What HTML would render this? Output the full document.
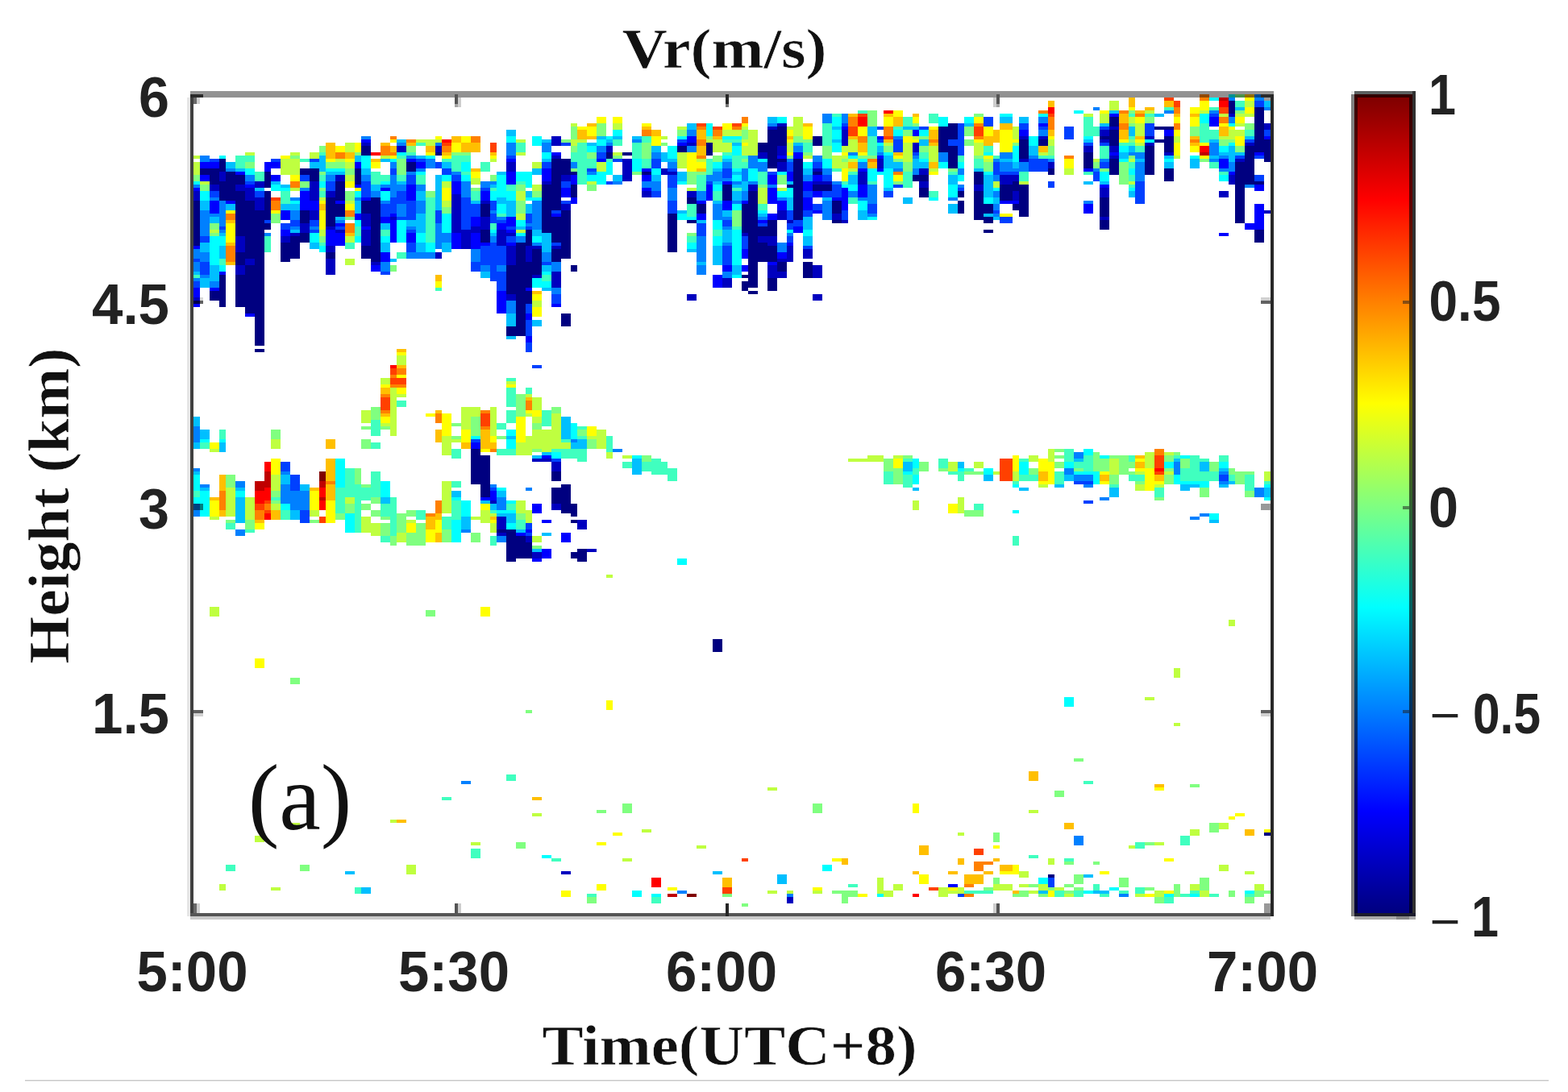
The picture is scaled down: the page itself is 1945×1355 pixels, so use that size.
<!DOCTYPE html>
<html lang="en"><head><meta charset="utf-8"><title>Vr(m/s)</title>
<style>
html,body{margin:0;padding:0;background:#fff;}
body{width:1945px;height:1355px;overflow:hidden;position:relative;}
svg{position:absolute;left:0;top:0;display:block;}
.t{font-family:"Liberation Sans",Arial,sans-serif;font-weight:bold;fill:#222;}
.s{font-family:"Liberation Serif","Times New Roman",serif;font-weight:bold;fill:#111;stroke:#fff;stroke-width:0.6px;}
.r{font-family:"Liberation Serif","Times New Roman",serif;fill:#111;}
</style></head>
<body>
<svg width="1945" height="1355" viewBox="0 0 1945 1355">
<rect x="0" y="0" width="1945" height="1355" fill="#fff"/>
<g transform="translate(0.3,1.2) scale(4,4)" shape-rendering="crispEdges">
<path fill="#000080" d="M381 31h2v4h-2zM389 33h3v14h-3zM344 36h3v3h-3zM294 38h3v5h-3zM358 39h6v1h-6zM241 39h3v6h-3zM291 39h3v8h-3zM344 40h3v5h-3zM238 40h3v12h-3zM341 42h3v1h-3zM252 42h3v3h-3zM361 42h3v5h-3zM358 43h3v1h-3zM322 43h3v2h-3zM316 43h3v6h-3zM392 43h2v7h-2zM235 44h3v3h-3zM219 44h2v4h-2zM210 45h3v2h-3zM112 45h3v3h-3zM294 45h3v7h-3zM355 45h3v9h-3zM386 45h3v12h-3zM135 47h2v1h-2zM193 47h3v1h-3zM188 47h2v2h-2zM336 47h3v5h-3zM241 49h3v1h-3zM68 49h2v4h-2zM174 49h3v5h-3zM344 49h3v5h-3zM171 49h3v16h-3zM246 49h3v19h-3zM126 50h3v3h-3zM383 50h3v19h-3zM62 52h3v2h-3zM93 52h3v2h-3zM325 52h2v2h-2zM96 52h3v4h-3zM361 52h3v4h-3zM65 52h3v5h-3zM110 52h2v5h-2zM177 53h2v1h-2zM199 53h3v1h-3zM252 53h3v1h-3zM302 53h3v4h-3zM82 53h2v5h-2zM70 53h3v9h-3zM283 54h5v2h-5zM73 54h3v3h-3zM389 56h3v1h-3zM314 56h2v3h-2zM68 56h2v6h-2zM104 56h3v6h-3zM244 57h2v1h-2zM252 57h6v2h-6zM177 57h2v4h-2zM224 57h3v5h-3zM310 57h4v5h-4zM316 57h3v10h-3zM168 57h3v15h-3zM285 58h3v3h-3zM297 59h2v2h-2zM82 59h2v9h-2zM302 59h3v9h-3zM73 59h3v14h-3zM232 59h3v30h-3zM213 61h3v2h-3zM341 61h3v6h-3zM101 61h3v9h-3zM115 61h3v20h-3zM112 62h3v4h-3zM258 62h3v4h-3zM297 62h2v4h-2zM60 62h2v14h-2zM76 62h3v18h-3zM314 63h2v2h-2zM216 63h3v3h-3zM305 63h3v3h-3zM104 63h3v4h-3zM149 63h3v4h-3zM230 63h2v9h-2zM93 65h3v4h-3zM174 65h3v15h-3zM79 65h3v42h-3zM207 66h3v12h-3zM305 67h3v2h-3zM171 67h3v8h-3zM213 68h3v1h-3zM258 68h3v1h-3zM341 68h3v3h-3zM238 68h3v5h-3zM82 69h2v2h-2zM235 70h3v3h-3zM305 71h3v1h-3zM149 71h3v4h-3zM389 71h3v4h-3zM163 71h2v5h-2zM93 72h3v3h-3zM90 73h3v7h-3zM87 75h3v6h-3zM235 75h3v6h-3zM160 75h3v29h-3zM112 76h3v4h-3zM238 76h3v5h-3zM171 77h3v4h-3zM165 77h3v8h-3zM101 78h3v2h-3zM73 78h3v4h-3zM241 81h3v3h-3zM249 81h3v5h-3zM163 81h2v8h-2zM177 82h2v2h-2zM157 82h3v9h-3zM76 82h3v15h-3zM230 85h2v1h-2zM68 85h2v10h-2zM73 85h3v10h-3zM238 86h3v4h-3zM230 87h2v3h-2zM232 90h3v1h-3zM65 90h3v3h-3zM163 90h2v4h-2zM174 97h3v4h-3zM157 101h3v3h-3zM79 108h3v1h-3zM146 139h3v11h-3zM149 141h3v13h-3zM171 146h3v3h-3zM174 150h3v9h-3zM171 151h3v5h-3zM177 156h2v4h-2zM177 161h2v1h-2zM154 164h3v1h-3zM157 164h3v10h-3zM160 166h3v7h-3zM163 168h2v5h-2zM179 170h3v4h-3zM177 171h2v2h-2zM221 198h3v4h-3zM392 258h2v1h-2zM325 271h2v1h-2z"/>
<path fill="#0000bf" d="M381 35h2v1h-2zM241 38h3v1h-3zM392 38h2v2h-2zM238 39h3v1h-3zM344 39h3v1h-3zM341 40h3v2h-3zM261 40h2v5h-2zM316 42h3v1h-3zM322 42h3v1h-3zM355 42h3v1h-3zM171 42h3v3h-3zM341 43h3v1h-3zM112 44h3v1h-3zM213 44h3v1h-3zM355 44h3v1h-3zM386 44h3v1h-3zM283 44h2v3h-2zM123 45h3v2h-3zM135 45h2v2h-2zM188 45h2v2h-2zM336 45h3v2h-3zM344 45h3v2h-3zM241 45h3v3h-3zM361 47h3v1h-3zM235 47h3v2h-3zM171 48h3v1h-3zM344 48h3v1h-3zM316 49h3v1h-3zM383 49h3v1h-3zM272 49h2v3h-2zM193 49h3v7h-3zM325 50h2v2h-2zM157 50h3v3h-3zM241 50h3v3h-3zM252 52h3v1h-3zM205 52h2v2h-2zM285 52h3v2h-3zM207 53h3v1h-3zM68 53h2v3h-2zM266 53h3v4h-3zM104 54h3v2h-3zM174 54h3v2h-3zM314 54h2v2h-2zM310 54h4v3h-4zM381 54h2v3h-2zM168 56h3v1h-3zM252 56h6v1h-6zM79 56h3v2h-3zM285 56h3v2h-3zM96 56h3v6h-3zM65 57h3v2h-3zM73 57h3v2h-3zM232 57h3v2h-3zM302 57h3v2h-3zM341 58h3v3h-3zM76 58h3v4h-3zM101 59h3v2h-3zM199 59h3v2h-3zM213 59h3v2h-3zM378 59h3v2h-3zM60 59h2v3h-2zM314 59h2v3h-2zM140 60h3v12h-3zM79 61h3v4h-3zM149 62h3v1h-3zM174 63h3v2h-3zM392 65h2v1h-2zM96 65h3v3h-3zM241 65h3v3h-3zM258 66h3v2h-3zM112 66h3v4h-3zM121 67h2v1h-2zM341 67h3v1h-3zM149 67h3v4h-3zM244 68h2v1h-2zM261 68h2v1h-2zM93 69h3v3h-3zM101 70h3v1h-3zM146 70h3v2h-3zM104 71h3v1h-3zM112 71h3v5h-3zM154 71h3v5h-3zM143 71h3v6h-3zM90 72h3v1h-3zM157 72h3v1h-3zM230 72h2v1h-2zM87 73h3v2h-3zM235 73h3v2h-3zM238 73h3v3h-3zM73 73h3v5h-3zM165 76h3v1h-3zM171 76h3v1h-3zM101 76h3v2h-3zM163 76h2v5h-2zM244 76h2v5h-2zM157 76h3v6h-3zM249 77h3v3h-3zM135 78h2v2h-2zM241 80h3v1h-3zM76 80h3v2h-3zM101 80h3v5h-3zM115 81h3v1h-3zM73 82h3v3h-3zM238 82h3v4h-3zM252 82h3v4h-3zM241 84h3v2h-3zM171 84h3v5h-3zM165 85h3v1h-3zM224 86h3v3h-3zM157 91h3v2h-3zM213 91h3v2h-3zM252 91h3v2h-3zM60 92h2v2h-2zM165 142h6v1h-6zM171 143h3v3h-3zM152 155h2v1h-2zM171 156h3v2h-3zM154 160h3v4h-3zM179 161h3v3h-3zM154 165h3v1h-3zM163 166h2v2h-2zM182 170h3v1h-3zM165 171h3v2h-3zM174 270h3v1h-3zM244 278h2v2h-2z"/>
<path fill="#0000ff" d="M344 35h3v1h-3zM375 36h3v3h-3zM322 38h3v1h-3zM261 39h2v1h-2zM283 40h2v2h-2zM316 40h3v2h-3zM361 40h3v2h-3zM272 42h2v1h-2zM392 42h2v1h-2zM213 42h3v2h-3zM112 43h3v1h-3zM210 44h3v1h-3zM171 47h3v1h-3zM344 47h3v1h-3zM389 47h3v1h-3zM246 47h3v2h-3zM241 48h3v1h-3zM272 48h2v1h-2zM126 49h3v1h-3zM157 49h3v1h-3zM185 49h3v1h-3zM378 49h3v3h-3zM62 50h6v2h-6zM84 50h3v2h-3zM110 50h2v2h-2zM129 50h3v2h-3zM82 50h2v3h-2zM199 52h3v1h-3zM266 52h3v1h-3zM272 52h2v1h-2zM336 52h3v1h-3zM168 52h3v4h-3zM73 53h3v1h-3zM381 53h2v1h-2zM244 53h2v3h-2zM157 53h3v4h-3zM62 54h3v2h-3zM84 54h3v2h-3zM199 54h3v2h-3zM252 54h3v2h-3zM177 54h2v3h-2zM238 54h3v3h-3zM224 56h3v1h-3zM249 56h3v3h-3zM140 56h3v4h-3zM76 57h3v1h-3zM110 57h2v1h-2zM341 57h3v1h-3zM389 57h3v2h-3zM266 57h3v4h-3zM126 57h3v5h-3zM219 57h2v5h-2zM60 58h2v1h-2zM118 58h3v1h-3zM199 58h3v1h-3zM174 58h3v3h-3zM238 58h3v5h-3zM261 58h2v7h-2zM252 59h3v2h-3zM149 59h3v3h-3zM93 59h3v6h-3zM112 61h3v1h-3zM258 61h3v1h-3zM177 61h2v2h-2zM249 61h3v4h-3zM70 62h3v1h-3zM104 62h3v1h-3zM216 62h3v1h-3zM230 62h2v1h-2zM310 62h6v1h-6zM96 62h3v3h-3zM224 62h3v3h-3zM241 62h3v3h-3zM65 62h3v4h-3zM336 63h3v3h-3zM389 63h3v8h-3zM252 65h3v1h-3zM87 65h3v3h-3zM121 66h2v1h-2zM171 66h3v1h-3zM110 66h2v2h-2zM216 66h3v2h-3zM238 66h3v2h-3zM118 67h3v2h-3zM146 67h3v3h-3zM157 67h3v3h-3zM235 68h3v1h-3zM121 68h2v7h-2zM104 69h3v1h-3zM154 69h3v2h-3zM386 69h3v2h-3zM112 70h3v1h-3zM246 70h3v2h-3zM157 71h3v1h-3zM87 71h3v2h-3zM101 71h3v5h-3zM378 72h3v1h-3zM126 72h3v3h-3zM104 72h3v4h-3zM140 72h3v5h-3zM146 72h3v5h-3zM149 75h3v1h-3zM157 75h3v1h-3zM244 75h2v1h-2zM60 76h2v1h-2zM230 77h2v3h-2zM241 78h3v2h-3zM118 78h3v3h-3zM238 81h3v1h-3zM115 82h3v2h-3zM224 82h3v2h-3zM230 82h2v2h-2zM68 84h2v1h-2zM221 85h3v4h-3zM65 89h3v1h-3zM163 89h2v1h-2zM60 89h2v3h-2zM154 90h3v7h-3zM60 94h2v1h-2zM171 94h3v1h-3zM76 97h3v1h-3zM163 97h2v2h-2zM163 104h2v2h-2zM146 137h3v2h-3zM168 141h3v1h-3zM152 152h2v3h-2zM149 154h3v1h-3zM165 156h3v3h-3zM168 161h3v1h-3zM163 164h2v1h-2zM160 165h3v1h-3zM174 165h3v3h-3zM168 170h3v3h-3zM165 173h3v1h-3zM294 274h3v1h-3z"/>
<path fill="#0040ff" d="M389 31h3v2h-3zM375 35h3v1h-3zM305 36h3v3h-3zM261 38h2v1h-2zM316 38h3v2h-3zM355 38h3v4h-3zM297 38h2v10h-2zM272 39h2v1h-2zM285 39h3v1h-3zM322 39h3v1h-3zM341 39h3v1h-3zM330 39h3v4h-3zM392 40h2v2h-2zM210 43h3v1h-3zM272 43h2v1h-2zM386 43h3v1h-3zM294 43h3v2h-3zM277 43h3v4h-3zM174 44h3v1h-3zM336 44h3v1h-3zM341 44h3v1h-3zM283 47h2v1h-2zM185 47h3v2h-3zM157 48h3v1h-3zM383 48h3v1h-3zM389 48h3v1h-3zM65 49h3v1h-3zM84 49h3v1h-3zM96 49h3v1h-3zM129 49h3v1h-3zM190 49h3v1h-3zM202 49h3v3h-3zM319 49h6v4h-6zM135 50h2v2h-2zM168 50h3v2h-3zM252 50h3v2h-3zM341 50h3v2h-3zM244 50h2v3h-2zM308 50h2v4h-2zM182 52h3v1h-3zM207 52h3v1h-3zM121 52h2v2h-2zM137 52h3v2h-3zM224 52h3v3h-3zM238 53h3v1h-3zM310 53h6v1h-6zM339 53h2v3h-2zM93 54h3v2h-3zM140 54h3v2h-3zM255 54h3v2h-3zM389 54h3v2h-3zM126 54h3v3h-3zM207 54h3v4h-3zM76 56h3v1h-3zM188 56h2v1h-2zM219 56h2v1h-2zM174 56h3v2h-3zM325 56h2v2h-2zM101 56h3v3h-3zM112 56h3v5h-3zM352 56h3v7h-3zM277 57h3v1h-3zM258 57h3v4h-3zM149 58h3v1h-3zM297 58h2v1h-2zM65 59h3v2h-3zM79 59h3v2h-3zM202 59h3v2h-3zM249 59h3v2h-3zM255 59h3v2h-3zM274 59h3v2h-3zM123 59h3v4h-3zM121 61h2v5h-2zM143 61h3v10h-3zM174 62h3v1h-3zM152 62h2v3h-2zM207 62h3v4h-3zM126 62h3v6h-3zM252 63h3v2h-3zM269 63h3v3h-3zM118 63h3v4h-3zM146 63h3v4h-3zM171 65h3v1h-3zM308 65h2v1h-2zM249 65h3v2h-3zM244 65h2v3h-2zM261 65h2v3h-2zM135 65h2v4h-2zM152 66h2v3h-2zM163 66h2v3h-2zM123 67h3v1h-3zM310 67h4v2h-4zM82 68h2v1h-2zM154 68h3v1h-3zM90 68h3v2h-3zM96 68h3v2h-3zM224 68h3v2h-3zM246 68h3v2h-3zM235 69h3v1h-3zM87 69h3v2h-3zM244 69h2v2h-2zM216 69h3v4h-3zM68 70h2v1h-2zM104 70h3v1h-3zM157 70h3v1h-3zM163 70h2v1h-2zM96 71h3v1h-3zM126 71h3v1h-3zM62 73h3v2h-3zM157 73h3v2h-3zM244 73h2v2h-2zM230 73h2v4h-2zM171 75h3v1h-3zM126 75h3v3h-3zM152 75h2v12h-2zM249 76h3v1h-3zM149 76h3v6h-3zM154 76h3v6h-3zM224 76h3v6h-3zM60 80h2v1h-2zM168 81h3v1h-3zM146 81h3v3h-3zM62 81h3v4h-3zM118 84h3v1h-3zM154 84h3v6h-3zM60 87h2v2h-2zM171 91h3v3h-3zM163 94h2v3h-2zM163 99h2v5h-2zM163 106h2v3h-2zM165 113h3v1h-3zM146 136h3v1h-3zM171 142h3v1h-3zM87 143h3v3h-3zM378 147h3v2h-3zM90 147h3v5h-3zM333 149h6v1h-6zM152 151h2v1h-2zM336 155h3v1h-3zM93 158h3v4h-3zM163 162h2v2h-2zM163 165h2v1h-2zM325 272h2v3h-2zM297 277h2v1h-2z"/>
<path fill="#0080ff" d="M389 29h3v2h-3zM381 30h2v1h-2zM339 33h2v1h-2zM392 33h2v1h-2zM361 34h3v1h-3zM375 34h3v1h-3zM255 35h3v3h-3zM261 35h2v3h-2zM322 36h3v2h-3zM381 36h2v2h-2zM238 38h3v1h-3zM213 40h3v2h-3zM322 40h3v2h-3zM112 42h3v1h-3zM277 42h3v1h-3zM196 43h3v1h-3zM123 44h3v1h-3zM135 44h2v1h-2zM188 44h2v1h-2zM168 44h3v3h-3zM157 44h3v4h-3zM375 44h3v4h-3zM185 45h3v2h-3zM213 45h3v2h-3zM246 45h3v2h-3zM263 47h3v1h-3zM272 47h2v1h-2zM350 47h2v1h-2zM202 47h3v2h-3zM310 47h4v2h-4zM352 47h3v2h-3zM291 47h3v3h-3zM126 48h3v1h-3zM283 48h2v1h-2zM319 48h3v1h-3zM378 48h3v1h-3zM62 48h3v2h-3zM252 48h3v2h-3zM232 48h3v4h-3zM244 49h2v1h-2zM308 49h2v1h-2zM325 49h2v1h-2zM341 49h3v1h-3zM375 49h3v1h-3zM132 49h3v3h-3zM121 50h2v2h-2zM177 50h2v2h-2zM207 50h3v2h-3zM224 50h3v2h-3zM266 50h3v2h-3zM235 50h3v3h-3zM310 50h4v3h-4zM316 50h3v3h-3zM381 50h2v3h-2zM352 50h3v6h-3zM70 52h3v1h-3zM129 52h3v1h-3zM277 52h3v1h-3zM314 52h2v1h-2zM339 52h2v1h-2zM378 52h3v1h-3zM255 52h3v2h-3zM283 52h2v2h-2zM297 52h2v2h-2zM230 52h2v4h-2zM126 53h3v1h-3zM140 53h3v1h-3zM182 53h3v1h-3zM221 53h3v3h-3zM76 54h3v2h-3zM101 54h3v2h-3zM112 54h3v2h-3zM219 54h2v2h-2zM249 54h3v2h-3zM308 54h2v2h-2zM121 54h2v7h-2zM224 55h3v1h-3zM152 56h2v1h-2zM190 56h3v1h-3zM227 56h3v1h-3zM232 56h3v1h-3zM258 56h3v1h-3zM149 56h3v2h-3zM199 56h3v2h-3zM202 56h3v3h-3zM143 56h3v5h-3zM60 57h2v1h-2zM118 57h3v1h-3zM238 57h3v1h-3zM297 57h2v1h-2zM386 57h3v1h-3zM123 57h3v2h-3zM129 57h3v2h-3zM269 57h3v6h-3zM93 58h3v1h-3zM207 58h3v4h-3zM115 59h3v2h-3zM263 59h3v2h-3zM308 59h2v2h-2zM216 59h3v3h-3zM230 59h2v3h-2zM65 61h3v1h-3zM90 61h3v1h-3zM110 61h2v1h-2zM241 61h3v1h-3zM266 61h3v1h-3zM294 61h3v1h-3zM118 62h3v1h-3zM227 62h3v1h-3zM336 62h3v1h-3zM129 62h3v4h-3zM255 62h3v6h-3zM68 62h2v8h-2zM165 62h3v9h-3zM308 63h2v2h-2zM123 63h3v4h-3zM221 63h3v5h-3zM152 65h2v1h-2zM90 65h3v3h-3zM62 65h3v8h-3zM65 66h3v1h-3zM269 66h3v1h-3zM308 66h2v1h-2zM154 67h3v1h-3zM224 67h3v1h-3zM235 67h3v1h-3zM104 68h3v1h-3zM163 69h2v1h-2zM135 69h2v8h-2zM90 70h3v1h-3zM96 70h3v1h-3zM126 70h3v1h-3zM224 70h3v1h-3zM68 71h2v1h-2zM82 72h2v1h-2zM244 72h2v1h-2zM137 72h3v3h-3zM152 73h2v2h-2zM160 73h3v2h-3zM216 73h3v8h-3zM165 75h3v1h-3zM224 75h3v1h-3zM241 75h3v3h-3zM60 77h2v3h-2zM146 77h3v4h-3zM126 78h9v2h-9zM62 78h3v3h-3zM168 78h3v3h-3zM60 81h2v3h-2zM118 81h3v3h-3zM171 81h3v3h-3zM149 82h3v2h-3zM154 82h3v2h-3zM216 82h3v3h-3zM224 84h3v2h-3zM62 85h3v1h-3zM60 86h2v1h-2zM65 87h3v2h-3zM171 89h3v2h-3zM157 93h3v4h-3zM60 132h2v5h-2zM177 136h2v1h-2zM190 139h3v1h-3zM333 140h3v2h-3zM364 143h2v4h-2zM60 145h2v1h-2zM330 145h3v2h-3zM87 146h3v1h-3zM378 146h3v1h-3zM333 147h6v2h-6zM378 149h3v1h-3zM73 149h3v2h-3zM62 150h3v1h-3zM152 150h2v1h-2zM336 150h3v1h-3zM87 150h3v6h-3zM163 151h2v1h-2zM389 151h3v3h-3zM90 152h6v6h-6zM341 154h3v1h-3zM154 154h3v4h-3zM60 156h2v4h-2zM372 159h3v1h-3zM369 160h3v1h-3zM143 164h3v1h-3zM73 164h3v2h-3zM154 166h3v2h-3zM143 242h3v1h-3zM333 259h3v3h-3zM210 276h3v1h-3zM244 277h2v1h-2zM347 277h3v1h-3z"/>
<path fill="#00bfff" d="M392 31h2v2h-2zM383 33h3v1h-3zM344 34h3v1h-3zM358 35h3v1h-3zM238 36h3v2h-3zM310 36h4v2h-4zM316 36h3v2h-3zM299 38h3v1h-3zM341 38h3v1h-3zM213 38h3v2h-3zM258 39h3v1h-3zM280 39h5v1h-5zM269 39h3v3h-3zM350 39h2v3h-2zM157 40h3v2h-3zM185 42h3v1h-3zM190 42h3v1h-3zM196 42h3v1h-3zM386 42h3v1h-3zM123 43h3v1h-3zM168 43h3v1h-3zM188 43h2v1h-2zM258 43h3v1h-3zM336 43h3v1h-3zM375 43h3v1h-3zM285 43h3v2h-3zM182 44h3v1h-3zM227 44h3v1h-3zM246 44h3v1h-3zM202 45h3v2h-3zM272 45h2v2h-2zM350 45h2v2h-2zM319 45h3v3h-3zM381 45h2v5h-2zM378 47h3v1h-3zM383 47h3v1h-3zM347 47h3v2h-3zM205 47h2v3h-2zM129 48h3v1h-3zM361 48h3v1h-3zM375 48h3v1h-3zM110 48h2v2h-2zM274 48h3v4h-3zM99 48h2v5h-2zM118 49h3v1h-3zM168 49h3v1h-3zM207 49h3v1h-3zM224 49h3v1h-3zM310 49h4v1h-4zM352 49h3v1h-3zM283 49h2v3h-2zM369 49h3v3h-3zM70 50h3v2h-3zM96 50h3v2h-3zM137 50h3v2h-3zM277 50h3v2h-3zM285 50h3v2h-3zM314 50h2v2h-2zM361 50h3v2h-3zM73 52h3v1h-3zM221 52h3v1h-3zM302 52h3v1h-3zM112 52h3v2h-3zM165 52h3v2h-3zM249 52h3v2h-3zM101 53h6v1h-6zM154 53h3v1h-3zM227 53h3v1h-3zM210 53h3v3h-3zM190 54h3v2h-3zM202 54h3v2h-3zM263 54h3v3h-3zM294 54h3v3h-3zM305 54h3v7h-3zM135 54h2v11h-2zM84 56h3v1h-3zM123 56h3v1h-3zM221 56h3v1h-3zM244 56h2v1h-2zM336 56h3v1h-3zM341 56h3v1h-3zM230 56h2v3h-2zM87 57h3v1h-3zM152 57h2v1h-2zM227 57h3v1h-3zM115 57h3v2h-3zM79 58h3v1h-3zM274 58h3v1h-3zM163 59h2v2h-2zM350 59h2v2h-2zM129 59h3v3h-3zM227 59h3v3h-3zM255 61h3v1h-3zM154 61h3v2h-3zM280 61h3v2h-3zM308 61h2v2h-2zM244 61h2v4h-2zM146 62h3v1h-3zM221 62h3v1h-3zM62 62h3v3h-3zM110 62h2v4h-2zM157 62h3v5h-3zM70 63h3v2h-3zM87 63h6v2h-6zM163 63h2v3h-2zM294 63h3v3h-3zM210 65h3v1h-3zM224 65h3v2h-3zM266 65h3v3h-3zM235 66h3v1h-3zM305 66h3v1h-3zM129 66h3v6h-3zM104 67h3v1h-3zM308 67h2v1h-2zM65 67h3v2h-3zM249 67h3v4h-3zM216 68h3v1h-3zM126 68h3v2h-3zM118 69h3v2h-3zM160 70h3v1h-3zM90 71h3v1h-3zM165 71h3v2h-3zM224 71h3v4h-3zM68 72h2v1h-2zM152 72h2v1h-2zM168 72h3v6h-3zM249 73h3v3h-3zM96 75h3v2h-3zM62 75h3v3h-3zM118 75h3v3h-3zM129 75h3v3h-3zM137 75h3v3h-3zM68 76h2v4h-2zM221 76h3v6h-3zM213 77h3v1h-3zM121 80h2v1h-2zM216 81h3v1h-3zM168 82h3v2h-3zM227 82h3v3h-3zM65 82h3v5h-3zM60 84h2v1h-2zM149 84h3v2h-3zM62 86h3v3h-3zM168 89h3v1h-3zM157 97h3v4h-3zM165 99h3v2h-3zM157 104h3v1h-3zM60 129h2v3h-2zM174 129h3v7h-3zM62 133h3v3h-3zM157 135h3v1h-3zM179 136h3v3h-3zM60 137h2v2h-2zM177 137h2v2h-2zM68 137h2v3h-2zM168 140h3v1h-3zM165 141h3v1h-3zM333 142h3v1h-3zM364 142h2v1h-2zM196 142h3v5h-3zM297 143h2v2h-2zM280 143h3v3h-3zM372 143h3v3h-3zM378 145h3v1h-3zM60 146h2v1h-2zM305 147h3v2h-3zM330 147h3v2h-3zM87 147h3v3h-3zM381 149h2v1h-2zM327 150h3v1h-3zM369 150h3v1h-3zM378 150h3v1h-3zM93 150h3v2h-3zM366 150h3v2h-3zM62 151h3v1h-3zM73 151h3v1h-3zM283 151h2v1h-2zM316 151h3v1h-3zM344 151h3v3h-3zM392 151h2v3h-2zM140 152h3v2h-3zM154 152h3v2h-3zM118 154h3v2h-3zM73 154h3v8h-3zM149 155h3v1h-3zM152 156h2v2h-2zM90 158h3v3h-3zM154 159h3v1h-3zM157 159h3v3h-3zM143 160h3v4h-3zM375 161h3v1h-3zM160 164h3v1h-3zM168 165h3v1h-3zM165 170h3v1h-3zM107 270h3v1h-3zM221 270h3v1h-3zM336 271h3v1h-3zM241 271h3v3h-3zM112 275h3v2h-3zM322 276h3v1h-3zM339 276h5v1h-5z"/>
<path fill="#00ffff" d="M381 29h2v1h-2zM375 30h3v1h-3zM333 34h3v1h-3zM310 35h4v1h-4zM322 35h3v1h-3zM372 35h3v3h-3zM241 36h3v2h-3zM299 36h3v2h-3zM258 36h3v3h-3zM291 36h3v3h-3zM381 38h2v1h-2zM219 38h2v4h-2zM190 40h3v2h-3zM277 40h3v2h-3zM285 40h3v2h-3zM258 40h3v3h-3zM188 42h2v1h-2zM210 42h3v1h-3zM224 42h6v1h-6zM336 42h3v1h-3zM157 42h3v2h-3zM165 42h3v3h-3zM319 42h3v3h-3zM355 43h3v1h-3zM185 43h3v2h-3zM272 44h2v1h-2zM381 44h2v1h-2zM258 44h3v3h-3zM182 45h3v2h-3zM347 45h3v2h-3zM378 45h3v2h-3zM227 45h3v3h-3zM207 45h3v4h-3zM314 45h2v5h-2zM123 47h3v1h-3zM274 47h3v1h-3zM305 47h3v1h-3zM168 47h3v2h-3zM68 48h2v1h-2zM132 48h3v1h-3zM224 48h3v1h-3zM263 48h3v1h-3zM369 48h3v1h-3zM112 48h3v4h-3zM121 49h2v1h-2zM235 49h3v1h-3zM266 49h3v1h-3zM285 49h3v1h-3zM347 49h3v1h-3zM361 49h3v1h-3zM255 49h3v3h-3zM196 49h3v4h-3zM221 50h3v2h-3zM249 50h3v2h-3zM291 50h3v2h-3zM297 50h2v2h-2zM143 50h3v3h-3zM188 50h2v4h-2zM101 52h6v1h-6zM227 52h3v1h-3zM76 52h3v2h-3zM202 52h3v2h-3zM350 52h2v2h-2zM232 52h3v4h-3zM269 52h3v4h-3zM274 52h3v6h-3zM129 53h3v1h-3zM241 53h3v1h-3zM272 53h2v1h-2zM305 53h3v1h-3zM160 53h3v3h-3zM341 53h3v3h-3zM185 53h3v4h-3zM163 53h2v5h-2zM137 54h3v2h-3zM143 54h3v2h-3zM182 54h3v2h-3zM227 54h3v2h-3zM297 54h2v2h-2zM378 54h3v2h-3zM154 54h3v7h-3zM60 56h2v1h-2zM118 56h3v1h-3zM210 56h3v1h-3zM99 56h2v2h-2zM261 57h2v1h-2zM84 57h3v2h-3zM221 57h3v2h-3zM263 57h3v2h-3zM294 57h3v4h-3zM87 58h3v1h-3zM308 58h2v1h-2zM350 58h2v1h-2zM244 58h2v3h-2zM110 59h2v2h-2zM241 59h3v2h-3zM62 59h3v3h-3zM118 59h3v3h-3zM152 59h2v3h-2zM157 59h3v3h-3zM163 61h5v1h-5zM288 61h3v1h-3zM305 61h3v2h-3zM90 62h3v1h-3zM266 62h3v3h-3zM227 63h3v2h-3zM154 63h3v3h-3zM235 65h3v1h-3zM210 66h3v2h-3zM137 66h3v6h-3zM213 67h3v1h-3zM269 67h3v1h-3zM110 68h2v2h-2zM160 68h3v2h-3zM221 68h3v3h-3zM123 68h3v7h-3zM152 71h2v1h-2zM244 71h2v1h-2zM249 71h3v2h-3zM227 71h3v11h-3zM160 72h3v1h-3zM96 72h3v3h-3zM129 72h3v3h-3zM110 73h2v2h-2zM118 73h3v2h-3zM165 73h3v2h-3zM68 73h2v3h-2zM221 73h3v3h-3zM65 73h3v9h-3zM213 75h3v2h-3zM132 75h3v3h-3zM99 76h2v2h-2zM68 82h2v2h-2zM168 84h3v1h-3zM227 85h3v1h-3zM165 86h3v3h-3zM168 87h3v2h-3zM177 131h2v5h-2zM157 133h3v2h-3zM146 135h3v1h-3zM62 136h3v1h-3zM68 136h2v1h-2zM157 136h3v3h-3zM336 139h3v2h-3zM171 140h3v2h-3zM196 141h3v1h-3zM341 141h3v1h-3zM366 141h3v1h-3zM283 142h2v3h-2zM104 142h3v9h-3zM330 143h3v2h-3zM361 143h3v2h-3zM378 143h3v2h-3zM316 143h3v4h-3zM297 145h2v1h-2zM305 145h3v2h-3zM280 146h3v1h-3zM333 146h6v1h-6zM339 146h2v4h-2zM283 147h2v3h-2zM364 147h2v3h-2zM60 147h2v5h-2zM366 149h6v1h-6zM372 149h3v2h-3zM118 149h3v5h-3zM314 150h2v1h-2zM392 150h2v1h-2zM154 151h3v1h-3zM73 152h3v2h-3zM62 152h3v8h-3zM140 154h3v1h-3zM392 154h2v1h-2zM60 154h2v2h-2zM157 155h3v1h-3zM143 155h3v5h-3zM87 156h3v2h-3zM154 158h6v1h-6zM314 158h2v1h-2zM375 159h3v2h-3zM107 159h3v6h-3zM140 161h3v7h-3zM157 162h3v2h-3zM210 173h3v2h-3zM330 216h3v3h-3zM168 265h3v1h-3zM255 268h3v2h-3zM322 272h3v2h-3zM344 275h3v1h-3zM336 276h3v1h-3zM386 276h3v1h-3zM196 276h3v2h-3zM202 277h3v1h-3zM272 277h2v1h-2zM361 277h3v1h-3zM369 277h3v1h-3z"/>
<path fill="#40ffbf" d="M383 31h3v2h-3zM361 33h3v1h-3zM375 33h3v1h-3zM266 34h3v1h-3zM258 35h3v1h-3zM350 35h2v1h-2zM355 35h3v1h-3zM288 35h3v3h-3zM280 36h3v3h-3zM336 36h3v6h-3zM372 38h3v6h-3zM255 38h3v7h-3zM277 39h3v1h-3zM339 39h2v3h-2zM386 40h3v2h-3zM375 40h3v3h-3zM350 42h2v1h-2zM199 42h3v2h-3zM269 42h3v6h-3zM224 43h6v1h-6zM190 43h3v2h-3zM129 44h3v1h-3zM347 44h5v1h-5zM160 44h3v3h-3zM249 44h3v3h-3zM196 44h3v5h-3zM179 44h3v13h-3zM305 45h3v2h-3zM352 45h3v2h-3zM341 45h3v4h-3zM99 47h2v1h-2zM126 47h3v1h-3zM224 47h3v1h-3zM285 47h3v2h-3zM177 47h2v3h-2zM123 48h3v1h-3zM230 48h2v1h-2zM308 48h2v1h-2zM322 48h5v1h-5zM76 48h3v2h-3zM143 48h3v2h-3zM297 48h2v2h-2zM73 48h3v4h-3zM227 48h3v4h-3zM140 48h3v5h-3zM93 49h3v1h-3zM137 49h3v1h-3zM188 49h2v1h-2zM182 49h3v3h-3zM199 49h3v3h-3zM302 49h3v3h-3zM219 49h2v5h-2zM230 50h2v2h-2zM350 50h2v2h-2zM375 50h3v2h-3zM149 50h3v3h-3zM258 52h3v1h-3zM143 53h3v1h-3zM263 53h3v1h-3zM294 53h3v1h-3zM336 53h3v1h-3zM378 53h3v1h-3zM79 53h3v3h-3zM316 53h3v3h-3zM115 53h3v4h-3zM235 53h3v4h-3zM280 53h3v5h-3zM99 54h2v2h-2zM118 54h3v2h-3zM123 54h3v2h-3zM350 54h2v2h-2zM129 54h3v3h-3zM216 54h3v5h-3zM160 56h3v1h-3zM261 56h2v1h-2zM269 56h3v1h-3zM350 57h2v1h-2zM157 57h3v2h-3zM152 58h2v1h-2zM227 58h3v1h-3zM99 59h2v2h-2zM288 59h3v2h-3zM146 59h3v3h-3zM221 59h3v3h-3zM87 59h3v4h-3zM263 61h3v2h-3zM132 61h3v14h-3zM235 63h3v2h-3zM213 63h3v4h-3zM154 66h3v1h-3zM152 69h2v2h-2zM227 70h3v1h-3zM110 70h2v3h-2zM118 71h3v2h-3zM221 71h3v2h-3zM213 73h3v2h-3zM82 73h2v5h-2zM99 75h2v1h-2zM107 75h3v2h-3zM123 78h3v2h-3zM68 80h2v2h-2zM60 85h2v1h-2zM168 85h3v2h-3zM135 89h2v1h-2zM157 117h3v1h-3zM163 120h2v2h-2zM157 120h3v6h-3zM123 124h3v2h-3zM157 127h3v4h-3zM168 127h3v5h-3zM115 130h3v5h-3zM154 131h3v2h-3zM179 132h3v1h-3zM68 133h2v3h-2zM179 135h3v1h-3zM188 135h2v5h-2zM174 136h3v1h-3zM62 137h3v2h-3zM115 137h3v2h-3zM171 139h3v1h-3zM154 139h6v2h-6zM140 139h3v3h-3zM174 139h5v3h-5zM179 139h3v4h-3zM330 139h3v4h-3zM364 141h2v1h-2zM350 141h2v2h-2zM378 141h3v2h-3zM336 141h3v5h-3zM369 141h3v8h-3zM280 142h3v1h-3zM316 142h3v1h-3zM372 142h3v1h-3zM291 142h3v3h-3zM202 142h3v5h-3zM193 143h3v2h-3zM333 143h3v2h-3zM199 143h3v3h-3zM205 143h2v4h-2zM299 145h3v1h-3zM283 145h2v2h-2zM207 145h3v4h-3zM366 145h3v4h-3zM107 145h3v9h-3zM294 146h3v1h-3zM297 146h2v3h-2zM372 146h6v3h-6zM274 146h3v4h-3zM327 146h3v4h-3zM115 146h3v8h-3zM316 147h6v2h-6zM350 147h5v2h-5zM381 147h2v2h-2zM280 147h3v4h-3zM386 147h3v5h-3zM314 149h2v1h-2zM392 149h2v1h-2zM140 149h3v2h-3zM344 150h3v1h-3zM110 150h2v15h-2zM358 151h3v3h-3zM112 151h3v4h-3zM104 151h3v8h-3zM60 152h2v2h-2zM84 154h3v1h-3zM121 154h2v12h-2zM140 155h3v6h-3zM157 156h3v2h-3zM302 156h3v2h-3zM118 156h3v4h-3zM152 158h2v1h-2zM87 158h3v3h-3zM129 158h3v3h-3zM137 160h3v4h-3zM160 161h3v3h-3zM70 162h3v2h-3zM76 164h3v1h-3zM118 166h3v2h-3zM152 166h2v3h-2zM314 166h2v3h-2zM157 240h3v2h-3zM336 242h3v1h-3zM137 247h3v1h-3zM366 259h3v3h-3zM352 261h3v2h-3zM146 263h3v3h-3zM319 265h3v1h-3zM171 266h3v1h-3zM330 266h3v1h-3zM70 268h3v2h-3zM263 274h3v1h-3zM339 274h2v2h-2zM110 275h2v2h-2zM352 275h3v2h-3zM299 276h9v1h-9zM347 276h3v1h-3zM369 276h3v1h-3zM327 276h3v2h-3zM333 276h3v2h-3zM182 277h3v1h-3zM341 277h3v1h-3zM366 277h3v1h-3zM375 277h3v1h-3zM386 277h3v1h-3zM202 278h3v2h-3zM361 278h3v2h-3z"/>
<path fill="#80ff80" d="M383 29h3v1h-3zM350 34h2v1h-2zM383 34h3v1h-3zM269 34h3v5h-3zM302 35h3v1h-3zM355 36h3v2h-3zM283 38h2v1h-2zM350 38h2v1h-2zM386 38h3v2h-3zM185 38h3v4h-3zM299 39h3v3h-3zM369 39h3v3h-3zM177 39h2v4h-2zM210 40h3v2h-3zM280 40h3v2h-3zM230 40h2v3h-2zM219 42h2v1h-2zM285 42h3v1h-3zM246 42h3v2h-3zM174 43h3v1h-3zM249 43h3v1h-3zM350 43h2v1h-2zM381 43h2v1h-2zM299 43h3v2h-3zM378 43h3v2h-3zM205 44h2v1h-2zM314 44h2v1h-2zM199 44h3v5h-3zM99 45h2v2h-2zM126 45h3v2h-3zM177 45h2v2h-2zM274 45h3v2h-3zM285 45h3v2h-3zM383 45h3v2h-3zM325 45h2v3h-2zM255 45h3v4h-3zM110 47h2v1h-2zM140 47h6v1h-6zM249 47h3v1h-3zM182 47h3v2h-3zM90 48h3v1h-3zM190 48h3v1h-3zM244 48h2v1h-2zM266 48h6v1h-6zM302 48h3v1h-3zM350 48h2v1h-2zM221 48h3v2h-3zM230 49h2v1h-2zM261 49h2v1h-2zM277 49h3v1h-3zM372 49h3v1h-3zM123 49h3v5h-3zM76 50h3v2h-3zM101 50h6v2h-6zM339 50h2v2h-2zM280 50h3v3h-3zM305 50h3v3h-3zM347 50h3v7h-3zM177 52h2v1h-2zM294 52h3v1h-3zM341 52h3v1h-3zM107 52h3v2h-3zM99 53h2v1h-2zM196 53h3v1h-3zM216 53h3v1h-3zM213 53h3v4h-3zM60 54h2v2h-2zM152 54h2v2h-2zM241 54h3v3h-3zM277 56h3v1h-3zM93 56h3v2h-3zM235 57h3v1h-3zM62 57h3v2h-3zM160 57h3v2h-3zM182 57h3v2h-3zM99 58h2v1h-2zM146 58h3v1h-3zM132 59h3v2h-3zM165 59h3v2h-3zM107 59h3v3h-3zM160 62h3v4h-3zM137 64h3v2h-3zM227 65h3v5h-3zM84 66h3v3h-3zM107 67h3v1h-3zM65 69h3v2h-3zM65 72h3v1h-3zM213 72h3v1h-3zM99 73h2v2h-2zM121 82h2v2h-2zM160 122h3v7h-3zM171 126h3v2h-3zM115 126h3v4h-3zM146 129h3v6h-3zM140 131h3v1h-3zM165 131h3v2h-3zM112 132h3v1h-3zM118 132h3v1h-3zM179 133h3v2h-3zM84 133h3v3h-3zM140 135h3v1h-3zM154 135h3v1h-3zM112 136h3v3h-3zM182 136h3v3h-3zM165 139h3v1h-3zM327 139h3v1h-3zM364 140h2v1h-2zM339 140h2v6h-2zM280 141h3v1h-3zM327 141h3v1h-3zM344 141h3v1h-3zM199 141h3v2h-3zM361 141h3v2h-3zM347 141h3v6h-3zM366 142h3v3h-3zM274 142h3v4h-3zM341 142h3v4h-3zM327 143h3v2h-3zM350 143h2v2h-2zM285 143h3v3h-3zM375 143h3v3h-3zM291 145h3v1h-3zM333 145h3v1h-3zM361 145h3v1h-3zM319 145h3v2h-3zM381 145h2v2h-2zM110 145h2v5h-2zM277 145h3v5h-3zM299 146h6v1h-6zM350 146h2v1h-2zM386 146h3v1h-3zM383 146h3v4h-3zM344 147h3v3h-3zM361 147h3v3h-3zM70 147h3v4h-3zM352 149h3v1h-3zM112 150h3v1h-3zM372 151h3v3h-3zM84 152h3v2h-3zM386 152h3v2h-3zM358 154h3v1h-3zM115 154h3v2h-3zM84 155h3v1h-3zM112 156h3v2h-3zM107 156h3v3h-3zM115 158h3v2h-3zM126 158h3v2h-3zM299 158h6v2h-6zM104 159h3v2h-3zM160 159h3v2h-3zM123 159h3v6h-3zM118 160h3v1h-3zM70 161h3v1h-3zM96 161h3v1h-3zM76 161h3v3h-3zM118 162h3v4h-3zM129 162h3v7h-3zM137 164h3v4h-3zM146 165h3v3h-3zM126 165h3v4h-3zM121 166h2v3h-2zM165 169h3v1h-3zM132 189h3v2h-3zM90 210h3v2h-3zM163 220h2v1h-2zM333 235h3v1h-3zM369 243h3v1h-3zM327 245h3v2h-3zM193 249h3v3h-3zM252 249h3v3h-3zM185 251h3v1h-3zM375 255h3v3h-3zM308 258h2v3h-2zM355 261h3v1h-3zM160 261h3v2h-3zM330 267h3v1h-3zM339 267h2v1h-2zM93 268h3v2h-3zM333 271h3v3h-3zM308 272h2v2h-2zM347 272h3v3h-3zM372 272h3v4h-3zM319 274h3v1h-3zM330 274h3v1h-3zM364 274h2v4h-2zM305 275h3v1h-3zM325 275h2v1h-2zM333 275h3v1h-3zM355 275h3v1h-3zM258 276h3v1h-3zM330 276h3v1h-3zM392 276h2v1h-2zM263 276h3v2h-3zM316 276h3v2h-3zM381 276h2v2h-2zM389 276h3v2h-3zM261 276h2v4h-2zM224 277h3v1h-3zM314 277h2v1h-2zM322 277h3v1h-3zM182 278h3v2h-3zM358 278h3v2h-3zM386 278h3v2h-3zM230 280h2v1h-2z"/>
<path fill="#bfff40" d="M386 31h3v2h-3zM344 31h3v3h-3zM355 34h3v1h-3zM372 34h3v1h-3zM336 35h3v1h-3zM378 35h3v1h-3zM383 35h6v1h-6zM341 35h3v3h-3zM350 36h2v2h-2zM246 36h3v6h-3zM177 38h2v1h-2zM383 38h3v1h-3zM190 38h3v2h-3zM352 38h3v4h-3zM210 39h3v1h-3zM230 39h2v1h-2zM244 39h2v1h-2zM314 39h2v4h-2zM224 40h6v2h-6zM383 40h3v2h-3zM381 40h2v3h-2zM232 40h3v8h-3zM205 42h2v1h-2zM283 42h2v1h-2zM378 42h3v1h-3zM364 42h2v2h-2zM129 43h3v1h-3zM135 43h2v1h-2zM160 43h3v1h-3zM179 43h3v1h-3zM219 43h2v1h-2zM230 43h2v1h-2zM132 43h3v2h-3zM177 43h2v2h-2zM325 43h2v2h-2zM221 43h3v4h-3zM263 43h3v4h-3zM274 44h3v1h-3zM352 44h3v1h-3zM107 44h3v3h-3zM224 44h3v3h-3zM244 44h2v3h-2zM302 44h3v4h-3zM280 44h3v6h-3zM261 45h2v2h-2zM230 45h2v3h-2zM288 45h3v5h-3zM76 47h3v1h-3zM90 47h3v1h-3zM160 47h3v1h-3zM190 47h3v1h-3zM322 47h3v1h-3zM96 47h3v2h-3zM210 47h3v5h-3zM60 48h2v1h-2zM118 48h3v1h-3zM249 48h3v1h-3zM261 48h2v1h-2zM364 48h2v1h-2zM258 48h3v4h-3zM104 49h3v1h-3zM152 49h2v1h-2zM216 49h3v1h-3zM263 49h3v1h-3zM305 49h3v1h-3zM339 49h2v1h-2zM350 49h2v1h-2zM87 49h6v5h-6zM107 50h3v2h-3zM165 50h3v2h-3zM261 50h2v2h-2zM185 50h3v3h-3zM60 50h2v4h-2zM263 52h3v1h-3zM288 52h3v1h-3zM330 52h3v2h-3zM107 54h3v2h-3zM146 55h3v2h-3zM62 56h3v1h-3zM182 56h3v1h-3zM316 56h3v1h-3zM350 56h2v1h-2zM137 56h3v2h-3zM308 56h2v2h-2zM165 57h3v2h-3zM90 58h3v1h-3zM213 58h3v1h-3zM241 58h3v1h-3zM235 58h3v5h-3zM160 59h3v3h-3zM99 61h2v1h-2zM107 62h3v1h-3zM137 62h3v2h-3zM160 66h3v2h-3zM65 71h3v1h-3zM160 71h3v1h-3zM99 71h2v2h-2zM107 73h3v2h-3zM107 80h3v2h-3zM165 93h3v2h-3zM123 110h3v3h-3zM118 117h3v2h-3zM157 118h3v1h-3zM121 120h2v15h-2zM123 122h3v1h-3zM163 122h2v1h-2zM165 123h3v4h-3zM146 126h3v3h-3zM143 126h3v7h-3zM152 126h2v9h-2zM112 127h3v4h-3zM163 128h2v1h-2zM171 128h3v11h-3zM165 129h3v2h-3zM118 131h3v1h-3zM165 133h3v6h-3zM185 133h3v6h-3zM168 133h3v7h-3zM182 135h3v1h-3zM137 135h3v6h-3zM163 135h2v6h-2zM140 136h3v1h-3zM84 136h3v3h-3zM174 137h3v2h-3zM160 137h3v4h-3zM65 139h3v1h-3zM325 139h2v4h-2zM361 140h3v1h-3zM188 140h2v2h-2zM355 140h3v5h-3zM193 141h3v1h-3zM277 141h3v1h-3zM269 141h5v2h-5zM319 141h3v2h-3zM263 142h6v1h-6zM344 142h3v5h-3zM302 143h3v2h-3zM294 143h3v3h-3zM308 146h2v1h-2zM352 146h3v1h-3zM361 146h3v1h-3zM314 146h2v3h-2zM392 146h2v3h-2zM84 147h3v5h-3zM137 149h3v10h-3zM322 150h3v1h-3zM358 150h3v1h-3zM352 150h3v2h-3zM70 151h3v9h-3zM107 154h3v2h-3zM297 154h2v5h-2zM76 154h3v7h-3zM283 155h2v3h-2zM160 155h3v4h-3zM84 156h3v2h-3zM96 158h3v2h-3zM149 158h3v4h-3zM163 158h2v4h-2zM152 159h2v1h-2zM65 160h3v1h-3zM146 160h3v1h-3zM112 160h3v5h-3zM126 161h3v1h-3zM152 162h2v3h-2zM115 162h3v4h-3zM123 165h3v3h-3zM165 166h3v2h-3zM188 178h2v1h-2zM65 188h3v3h-3zM381 192h2v2h-2zM364 207h2v3h-2zM355 216h3v1h-3zM364 224h2v1h-2zM238 244h3v1h-3zM319 251h3v1h-3zM165 252h3v1h-3zM121 254h2v1h-2zM90 255h3v2h-3zM378 255h3v2h-3zM199 257h3v1h-3zM369 257h3v2h-3zM297 258h2v1h-2zM79 259h3v2h-3zM146 261h3v1h-3zM358 261h3v1h-3zM216 262h3v1h-3zM350 262h2v1h-2zM193 266h3v1h-3zM325 266h2v2h-2zM378 268h3v2h-3zM126 268h3v3h-3zM386 270h3v1h-3zM316 270h3v2h-3zM272 272h2v5h-2zM316 274h3v1h-3zM68 274h2v2h-2zM277 274h3v2h-3zM308 274h6v2h-6zM322 274h3v2h-3zM369 274h3v2h-3zM389 274h3v2h-3zM84 275h3v1h-3zM327 275h3v1h-3zM297 275h2v2h-2zM291 275h3v3h-3zM238 276h3v1h-3zM244 276h2v1h-2zM252 276h3v1h-3zM294 276h3v1h-3zM319 276h3v1h-3zM274 276h3v2h-3zM358 276h3v2h-3zM372 276h3v2h-3zM330 277h3v1h-3zM352 277h3v1h-3z"/>
<path fill="#ffff00" d="M386 30h3v1h-3zM372 31h3v3h-3zM350 33h2v1h-2zM369 33h3v2h-3zM386 33h3v2h-3zM341 34h3v1h-3zM277 34h3v2h-3zM185 36h3v2h-3zM190 36h3v2h-3zM283 36h2v2h-2zM302 36h3v2h-3zM352 36h3v2h-3zM364 36h2v2h-2zM383 36h3v2h-3zM274 36h3v3h-3zM369 36h3v3h-3zM199 38h3v1h-3zM230 38h2v1h-2zM378 38h3v1h-3zM224 38h3v2h-3zM179 39h3v1h-3zM288 39h3v1h-3zM381 39h2v1h-2zM182 39h3v3h-3zM266 39h3v3h-3zM305 39h3v3h-3zM249 39h3v4h-3zM244 40h2v2h-2zM364 40h2v2h-2zM310 40h4v7h-4zM135 42h2v1h-2zM325 42h2v1h-2zM143 42h3v2h-3zM280 42h3v2h-3zM202 42h3v3h-3zM383 42h3v3h-3zM121 43h2v1h-2zM244 43h2v1h-2zM283 43h2v1h-2zM302 43h3v1h-3zM314 43h2v1h-2zM347 43h3v1h-3zM352 43h3v1h-3zM230 44h2v1h-2zM372 44h3v1h-3zM110 44h2v3h-2zM140 44h3v3h-3zM364 44h2v4h-2zM104 45h3v2h-3zM369 45h3v2h-3zM132 47h3v1h-3zM244 47h2v1h-2zM261 47h2v1h-2zM266 47h3v1h-3zM213 47h3v6h-3zM87 48h3v1h-3zM121 48h2v1h-2zM137 48h3v1h-3zM152 48h2v1h-2zM277 48h3v1h-3zM305 48h3v1h-3zM372 48h3v1h-3zM101 49h3v1h-3zM107 49h3v1h-3zM330 49h3v3h-3zM115 50h3v2h-3zM216 50h3v2h-3zM261 52h2v4h-2zM288 53h3v1h-3zM146 53h3v2h-3zM90 54h3v2h-3zM277 54h3v2h-3zM107 56h3v2h-3zM110 58h2v1h-2zM137 58h3v4h-3zM99 62h2v1h-2zM107 63h3v2h-3zM70 65h3v1h-3zM84 65h3v1h-3zM99 65h2v6h-2zM310 66h4v1h-4zM70 69h3v6h-3zM135 87h2v2h-2zM165 91h3v2h-3zM165 95h3v3h-3zM123 109h3v1h-3zM123 116h3v1h-3zM118 119h3v1h-3zM157 119h3v1h-3zM123 120h3v2h-3zM163 127h2v1h-2zM165 127h3v2h-3zM132 128h3v1h-3zM137 128h3v7h-3zM118 129h3v2h-3zM160 129h3v8h-3zM182 132h3v3h-3zM143 133h3v4h-3zM152 135h2v2h-2zM65 137h3v2h-3zM149 139h3v1h-3zM314 141h2v5h-2zM352 142h3v1h-3zM277 142h3v3h-3zM322 142h3v4h-3zM84 142h3v5h-3zM325 143h2v7h-2zM352 145h3v1h-3zM355 145h3v7h-3zM341 146h3v1h-3zM322 149h3v1h-3zM341 149h3v1h-3zM358 149h3v1h-3zM96 152h3v6h-3zM65 155h3v5h-3zM101 155h3v7h-3zM149 156h3v2h-3zM294 156h3v3h-3zM152 161h2v1h-2zM135 161h2v4h-2zM79 162h3v2h-3zM126 162h3v3h-3zM132 164h3v4h-3zM149 188h3v3h-3zM79 204h3v3h-3zM188 217h2v3h-2zM358 244h3v1h-3zM283 249h2v3h-2zM383 252h3v1h-3zM381 253h2v1h-2zM392 257h2v1h-2zM190 258h3v1h-3zM185 261h3v1h-3zM308 262h2v1h-2zM258 266h3v1h-3zM361 266h3v1h-3zM314 268h2v3h-2zM310 270h4v1h-4zM341 270h3v1h-3zM285 271h3v3h-3zM185 274h3v2h-3zM207 275h3v1h-3zM252 275h3v1h-3zM294 275h3v1h-3zM361 276h3v1h-3zM174 276h3v2h-3zM325 276h2v2h-2zM266 277h3v1h-3zM355 277h3v1h-3z"/>
<path fill="#ffbf00" d="M386 29h3v1h-3zM350 30h2v3h-2zM325 31h2v2h-2zM361 31h3v2h-3zM355 33h3v1h-3zM352 34h3v1h-3zM263 35h3v1h-3zM274 35h3v1h-3zM283 35h2v1h-2zM364 35h2v1h-2zM369 35h3v1h-3zM347 35h3v3h-3zM277 36h3v3h-3zM182 38h3v1h-3zM249 38h3v1h-3zM310 38h4v2h-4zM199 39h3v1h-3zM378 39h3v3h-3zM202 40h3v2h-3zM325 40h2v2h-2zM179 40h3v3h-3zM216 40h3v3h-3zM288 40h3v3h-3zM347 40h3v3h-3zM308 40h2v4h-2zM182 42h3v1h-3zM221 42h3v1h-3zM244 42h2v1h-2zM263 42h3v1h-3zM352 42h3v1h-3zM369 42h3v1h-3zM140 42h3v2h-3zM305 42h3v3h-3zM274 43h3v1h-3zM118 44h3v1h-3zM126 44h3v1h-3zM288 44h3v1h-3zM369 44h3v1h-3zM143 44h6v3h-6zM266 44h3v3h-3zM101 44h3v5h-3zM121 45h2v2h-2zM132 45h3v2h-3zM322 45h3v2h-3zM216 45h3v3h-3zM137 47h3v1h-3zM152 47h2v1h-2zM277 47h3v1h-3zM107 47h3v2h-3zM115 49h3v1h-3zM263 50h3v2h-3zM269 50h3v2h-3zM288 50h3v2h-3zM146 52h3v1h-3zM216 52h3v1h-3zM99 63h2v2h-2zM70 68h3v1h-3zM107 72h3v1h-3zM70 75h3v1h-3zM70 81h3v1h-3zM135 85h2v2h-2zM165 90h3v1h-3zM123 108h3v1h-3zM123 113h3v1h-3zM118 120h3v2h-3zM163 123h2v1h-2zM135 127h2v1h-2zM118 128h3v1h-3zM135 133h2v4h-2zM149 133h3v6h-3zM101 136h3v3h-3zM143 137h3v2h-3zM152 137h2v2h-2zM352 141h3v1h-3zM101 142h3v7h-3zM352 143h3v2h-3zM322 146h3v3h-3zM341 147h3v2h-3zM358 147h3v2h-3zM68 147h2v5h-2zM101 150h3v5h-3zM96 151h3v1h-3zM65 154h3v1h-3zM68 158h2v2h-2zM84 158h3v3h-3zM135 159h2v2h-2zM152 160h2v1h-2zM132 160h3v4h-3zM79 161h3v1h-3zM135 165h2v3h-2zM319 239h3v3h-3zM358 243h3v1h-3zM165 247h3v1h-3zM123 254h3v1h-3zM330 255h3v2h-3zM386 257h3v2h-3zM285 262h3v3h-3zM308 266h2v1h-2zM261 266h2v2h-2zM297 266h2v2h-2zM310 268h4v2h-4zM283 270h2v1h-2zM294 270h3v1h-3zM305 270h3v1h-3zM299 271h6v3h-6zM224 272h3v3h-3zM314 276h2v1h-2z"/>
<path fill="#ff8000" d="M372 29h3v2h-3zM364 33h2v2h-2zM322 34h3v1h-3zM347 34h3v1h-3zM352 35h3v1h-3zM230 36h2v2h-2zM378 36h3v2h-3zM263 36h3v3h-3zM325 36h2v4h-2zM302 38h3v1h-3zM347 38h3v2h-3zM364 38h2v2h-2zM216 39h3v1h-3zM227 39h3v1h-3zM274 39h3v3h-3zM199 40h3v2h-3zM221 40h3v2h-3zM121 42h2v1h-2zM302 42h3v1h-3zM146 42h3v2h-3zM266 42h3v2h-3zM126 43h3v1h-3zM288 43h3v1h-3zM369 43h3v1h-3zM216 43h3v2h-3zM137 45h3v2h-3zM118 45h3v3h-3zM121 47h2v1h-2zM104 47h3v2h-3zM216 48h3v1h-3zM330 48h3v1h-3zM269 49h3v1h-3zM277 53h3v1h-3zM90 56h3v2h-3zM84 62h3v3h-3zM107 65h3v2h-3zM70 66h3v2h-3zM107 69h3v3h-3zM70 76h3v5h-3zM123 114h3v2h-3zM121 116h2v1h-2zM121 119h5v1h-5zM118 122h3v1h-3zM163 124h2v3h-2zM118 127h3v1h-3zM149 127h3v1h-3zM135 128h2v3h-2zM149 132h3v1h-3zM152 139h2v1h-2zM358 139h3v2h-3zM101 149h3v1h-3zM68 152h2v6h-2zM135 155h2v4h-2zM82 156h2v2h-2zM79 158h3v3h-3zM132 159h3v1h-3zM305 267h3v1h-3zM302 267h3v3h-3zM299 274h3v1h-3zM299 277h3v1h-3z"/>
<path fill="#ff4000" d="M361 30h3v1h-3zM364 31h2v2h-2zM378 33h3v2h-3zM266 35h3v1h-3zM325 35h2v1h-2zM216 38h3v1h-3zM227 38h3v1h-3zM221 39h3v1h-3zM263 39h3v3h-3zM302 39h3v3h-3zM274 42h3v1h-3zM137 44h3v1h-3zM152 44h2v3h-2zM84 61h3v1h-3zM121 114h2v2h-2zM121 117h5v2h-5zM118 123h3v4h-3zM149 128h3v4h-3zM358 141h3v4h-3zM310 142h4v7h-4zM358 146h3v1h-3zM82 155h2v1h-2zM79 156h3v2h-3zM82 158h2v1h-2zM99 160h2v2h-2zM302 263h3v2h-3zM230 266h2v1h-2zM288 275h3v1h-3zM224 275h3v2h-3z"/>
<path fill="#ff0000" d="M378 31h3v2h-3zM325 33h2v2h-2zM274 34h3v1h-3zM266 36h3v3h-3zM137 43h3v1h-3zM372 45h3v2h-3zM115 47h3v1h-3zM121 113h2v1h-2zM82 143h2v3h-2zM358 145h3v1h-3zM99 151h2v3h-2zM82 151h2v4h-2zM79 152h3v4h-3zM99 155h2v3h-2zM82 159h2v2h-2zM202 272h3v3h-3zM283 277h2v1h-2z"/>
<path fill="#bf0000" d="M378 30h3v1h-3zM372 47h3v1h-3zM82 146h2v5h-2zM99 149h2v2h-2zM79 149h3v3h-3zM99 154h2v1h-2zM207 277h3v1h-3z"/>
<path fill="#800000" d="M99 146h2v3h-2zM213 277h3v1h-3z"/>
<rect x="59" y="28" width="336" height="1" fill="#939393"/>
<rect x="59" y="29" width="336" height="1" fill="#000" fill-opacity="0.43"/>
<rect x="58" y="30" width="1" height="254" fill="#e6e6e6"/>
<rect x="59" y="29" width="1" height="255" fill="#404040"/>
<rect x="59" y="283" width="336" height="1" fill="#555"/>
<rect x="59" y="284" width="335" height="1" fill="#cbcbcb"/>
<rect x="394" y="29" width="1" height="255" fill="#282828"/>
<rect x="59" y="29" width="4" height="1" fill="#2a2a2a"/>
<rect x="60" y="30" width="1" height="2" fill="#6a6a6a"/>
<rect x="61" y="30" width="1" height="2" fill="#cfcfcf"/>
<rect x="60" y="280" width="1" height="3" fill="#6a6a6a"/>
<rect x="61" y="280" width="1" height="3" fill="#cfcfcf"/>
<rect x="392" y="280" width="2" height="3" fill="#999"/>
<rect x="391" y="29" width="3" height="1" fill="#2a2a2a"/>
<rect x="392" y="30" width="2" height="1" fill="#9a9a9a"/>
<rect x="141" y="29" width="1" height="3" fill="#555"/>
<rect x="141" y="32" width="1" height="1" fill="#a5a5a5"/>
<rect x="141" y="280" width="1" height="4" fill="#555"/>
<rect x="142" y="30" width="1" height="3" fill="#cdcdcd"/>
<rect x="142" y="280" width="1" height="3" fill="#cdcdcd"/>
<rect x="225" y="29" width="1" height="3" fill="#262626"/>
<rect x="225" y="32" width="1" height="1" fill="#777"/>
<rect x="225" y="280" width="1" height="4" fill="#262626"/>
<rect x="309" y="29" width="1" height="3" fill="#555"/>
<rect x="309" y="32" width="1" height="1" fill="#a5a5a5"/>
<rect x="309" y="280" width="1" height="4" fill="#555"/>
<rect x="308" y="30" width="1" height="3" fill="#cdcdcd"/>
<rect x="308" y="280" width="1" height="3" fill="#cdcdcd"/>
<rect x="60" y="93" width="3" height="1" fill="#000" fill-opacity="0.62"/>
<rect x="62" y="92" width="1" height="1" fill="#000" fill-opacity="0.15"/>
<rect x="391" y="93" width="3" height="1" fill="#000" fill-opacity="0.62"/>
<rect x="391" y="92" width="3" height="1" fill="#000" fill-opacity="0.18"/>
<rect x="60" y="156" width="3" height="2" fill="#000" fill-opacity="0.5"/>
<rect x="391" y="156" width="3" height="2" fill="#000" fill-opacity="0.4"/>
<rect x="60" y="220" width="3" height="1" fill="#000" fill-opacity="0.62"/>
<rect x="60" y="221" width="3" height="1" fill="#000" fill-opacity="0.18"/>
<rect x="391" y="220" width="3" height="1" fill="#000" fill-opacity="0.62"/>
<rect x="391" y="221" width="3" height="1" fill="#000" fill-opacity="0.18"/>
</g>
<defs><linearGradient id="jet" gradientUnits="userSpaceOnUse" x1="0" y1="283" x2="0" y2="30"><stop offset="0.0000" stop-color="#000080"/><stop offset="0.0156" stop-color="#00008f"/><stop offset="0.0312" stop-color="#00009f"/><stop offset="0.0469" stop-color="#0000af"/><stop offset="0.0625" stop-color="#0000bf"/><stop offset="0.0781" stop-color="#0000cf"/><stop offset="0.0938" stop-color="#0000df"/><stop offset="0.1094" stop-color="#0000ef"/><stop offset="0.1250" stop-color="#0000ff"/><stop offset="0.1406" stop-color="#0010ff"/><stop offset="0.1562" stop-color="#0020ff"/><stop offset="0.1719" stop-color="#0030ff"/><stop offset="0.1875" stop-color="#0040ff"/><stop offset="0.2031" stop-color="#0050ff"/><stop offset="0.2188" stop-color="#0060ff"/><stop offset="0.2344" stop-color="#0070ff"/><stop offset="0.2500" stop-color="#0080ff"/><stop offset="0.2656" stop-color="#008fff"/><stop offset="0.2812" stop-color="#009fff"/><stop offset="0.2969" stop-color="#00afff"/><stop offset="0.3125" stop-color="#00bfff"/><stop offset="0.3281" stop-color="#00cfff"/><stop offset="0.3438" stop-color="#00dfff"/><stop offset="0.3594" stop-color="#00efff"/><stop offset="0.3750" stop-color="#00ffff"/><stop offset="0.3906" stop-color="#10ffef"/><stop offset="0.4062" stop-color="#20ffdf"/><stop offset="0.4219" stop-color="#30ffcf"/><stop offset="0.4375" stop-color="#40ffbf"/><stop offset="0.4531" stop-color="#50ffaf"/><stop offset="0.4688" stop-color="#60ff9f"/><stop offset="0.4844" stop-color="#70ff8f"/><stop offset="0.5000" stop-color="#80ff80"/><stop offset="0.5156" stop-color="#8fff70"/><stop offset="0.5312" stop-color="#9fff60"/><stop offset="0.5469" stop-color="#afff50"/><stop offset="0.5625" stop-color="#bfff40"/><stop offset="0.5781" stop-color="#cfff30"/><stop offset="0.5938" stop-color="#dfff20"/><stop offset="0.6094" stop-color="#efff10"/><stop offset="0.6250" stop-color="#ffff00"/><stop offset="0.6406" stop-color="#ffef00"/><stop offset="0.6562" stop-color="#ffdf00"/><stop offset="0.6719" stop-color="#ffcf00"/><stop offset="0.6875" stop-color="#ffbf00"/><stop offset="0.7031" stop-color="#ffaf00"/><stop offset="0.7188" stop-color="#ff9f00"/><stop offset="0.7344" stop-color="#ff8f00"/><stop offset="0.7500" stop-color="#ff8000"/><stop offset="0.7656" stop-color="#ff7000"/><stop offset="0.7812" stop-color="#ff6000"/><stop offset="0.7969" stop-color="#ff5000"/><stop offset="0.8125" stop-color="#ff4000"/><stop offset="0.8281" stop-color="#ff3000"/><stop offset="0.8438" stop-color="#ff2000"/><stop offset="0.8594" stop-color="#ff1000"/><stop offset="0.8750" stop-color="#ff0000"/><stop offset="0.8906" stop-color="#ef0000"/><stop offset="0.9062" stop-color="#df0000"/><stop offset="0.9219" stop-color="#cf0000"/><stop offset="0.9375" stop-color="#bf0000"/><stop offset="0.9531" stop-color="#af0000"/><stop offset="0.9688" stop-color="#9f0000"/><stop offset="0.9844" stop-color="#8f0000"/><stop offset="1.0000" stop-color="#800000"/></linearGradient></defs>
<g transform="translate(0.3,1.2) scale(4,4)" shape-rendering="crispEdges">
<rect x="419" y="29" width="1" height="255" fill="#808080"/>
<rect x="419" y="28" width="1" height="1" fill="#e8e8e8"/>
<rect x="420" y="28" width="19" height="1" fill="#5c6060"/>
<rect x="420" y="29" width="18" height="254" fill="url(#jet)"/>
<rect x="420" y="29" width="18" height="1" fill="#000" fill-opacity="0.62"/>
<rect x="420" y="30" width="1" height="253" fill="#000" fill-opacity="0.58"/>
<rect x="437" y="30" width="1" height="253" fill="#000" fill-opacity="0.62"/>
<rect x="438" y="28" width="1" height="256" fill="#303030"/>
<rect x="420" y="283" width="19" height="1" fill="#1b1b2c"/>
<rect x="420" y="284" width="19" height="1" fill="#a9a9a9"/>
<rect x="433" y="284" width="4" height="1" fill="#868686"/>
<rect x="435" y="93" width="2" height="1" fill="#222" fill-opacity="0.55"/>
<rect x="435" y="156.6" width="2" height="1" fill="#222" fill-opacity="0.55"/>
<rect x="435" y="220" width="2" height="1" fill="#222" fill-opacity="0.55"/>
</g>
<rect x="31" y="1340" width="1890" height="1.4" fill="#c6c6c6"/>
<text class="s" x="771.5" y="84" font-size="70" text-anchor="start" textLength="254" lengthAdjust="spacingAndGlyphs">Vr(m/s)</text>
<text class="s" x="672.5" y="1321" font-size="70" text-anchor="start" textLength="465" lengthAdjust="spacingAndGlyphs">Time(UTC+8)</text>
<text class="s" font-size="72" text-anchor="start" textLength="392" lengthAdjust="spacingAndGlyphs" transform="translate(85,823.5) rotate(-90)">Height (km)</text>
<text class="r" x="372" y="1029" font-size="116" text-anchor="middle">(a)</text>
<text class="t" x="169.5" y="1229.5" font-size="71" text-anchor="start" textLength="138" lengthAdjust="spacingAndGlyphs">5:00</text>
<text class="t" x="494" y="1229.5" font-size="71" text-anchor="start" textLength="138" lengthAdjust="spacingAndGlyphs">5:30</text>
<text class="t" x="826" y="1229.5" font-size="71" text-anchor="start" textLength="138" lengthAdjust="spacingAndGlyphs">6:00</text>
<text class="t" x="1160" y="1229.5" font-size="71" text-anchor="start" textLength="138" lengthAdjust="spacingAndGlyphs">6:30</text>
<text class="t" x="1497" y="1229.5" font-size="71" text-anchor="start" textLength="138" lengthAdjust="spacingAndGlyphs">7:00</text>
<text class="t" x="172" y="145" font-size="71" text-anchor="start" textLength="38" lengthAdjust="spacingAndGlyphs">6</text>
<text class="t" x="114" y="402" font-size="71" text-anchor="start" textLength="96" lengthAdjust="spacingAndGlyphs">4.5</text>
<text class="t" x="172" y="656" font-size="71" text-anchor="start" textLength="38" lengthAdjust="spacingAndGlyphs">3</text>
<text class="t" x="114" y="910" font-size="71" text-anchor="start" textLength="96" lengthAdjust="spacingAndGlyphs">1.5</text>
<text class="t" x="1772" y="141.5" font-size="71" text-anchor="start" textLength="34" lengthAdjust="spacingAndGlyphs">1</text>
<text class="t" x="1772.5" y="398" font-size="71" text-anchor="start" textLength="89" lengthAdjust="spacingAndGlyphs">0.5</text>
<text class="t" x="1772" y="654" font-size="71" text-anchor="start" textLength="37" lengthAdjust="spacingAndGlyphs">0</text>
<text class="t" font-size="71"><tspan x="1773.5" y="907.5" font-size="60" font-weight="normal" textLength="38" lengthAdjust="spacingAndGlyphs">−</tspan><tspan x="1827" y="909.5" textLength="84" lengthAdjust="spacingAndGlyphs">0.5</tspan></text>
<text class="t" font-size="71"><tspan x="1773.5" y="1163.5" font-size="60" font-weight="normal" textLength="38" lengthAdjust="spacingAndGlyphs">−</tspan><tspan x="1825" y="1162" textLength="34" lengthAdjust="spacingAndGlyphs">1</tspan></text>
</svg>
</body></html>
